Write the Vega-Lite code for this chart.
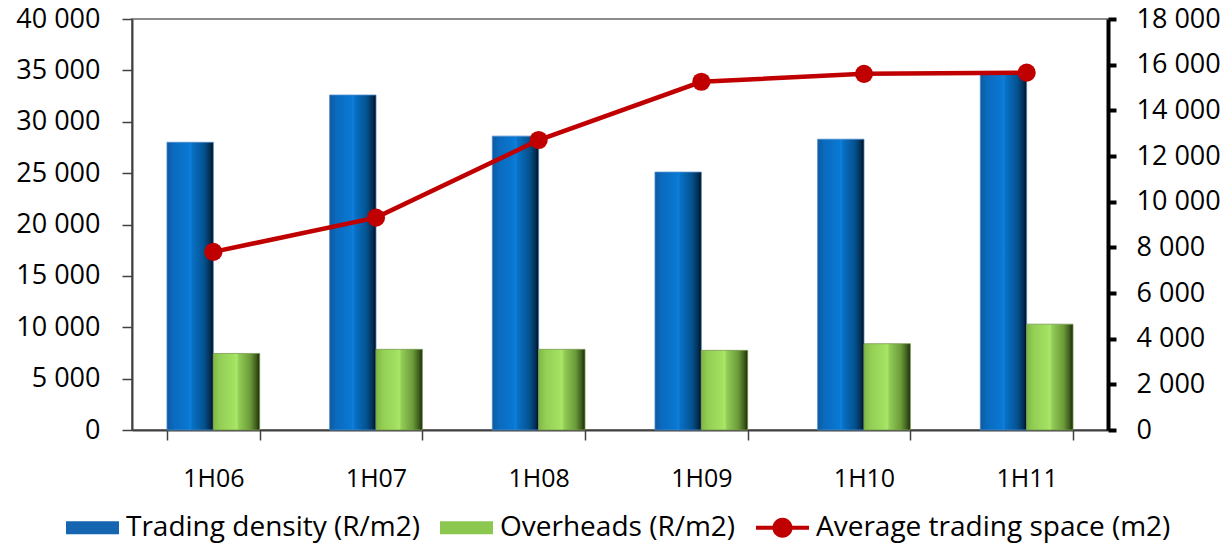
{
  "$schema": "https://vega.github.io/schema/vega-lite/v6.json",
  "width": 976,
  "height": 411,
  "autosize": {"type": "none"},
  "padding": {"left": 132, "top": 19, "right": 122, "bottom": 116},
  "background": "white",
  "config": {
    "view": {"stroke": "#8c8c8c", "strokeWidth": 2},
    "font": "Open Sans"
  },
  "datasets": {
    "bars": [
      {"period": "1H06", "series": "Trading density (R/m2)", "value": 28000},
      {"period": "1H07", "series": "Trading density (R/m2)", "value": 32600},
      {"period": "1H08", "series": "Trading density (R/m2)", "value": 28600},
      {"period": "1H09", "series": "Trading density (R/m2)", "value": 25100},
      {"period": "1H10", "series": "Trading density (R/m2)", "value": 28300},
      {"period": "1H11", "series": "Trading density (R/m2)", "value": 34600},
      {"period": "1H06", "series": "Overheads (R/m2)", "value": 7450},
      {"period": "1H07", "series": "Overheads (R/m2)", "value": 7850},
      {"period": "1H08", "series": "Overheads (R/m2)", "value": 7850},
      {"period": "1H09", "series": "Overheads (R/m2)", "value": 7750},
      {"period": "1H10", "series": "Overheads (R/m2)", "value": 8400},
      {"period": "1H11", "series": "Overheads (R/m2)", "value": 10300}
    ],
    "space": [
      {"period": "1H06", "series": "Average trading space (m2)", "space": 7800},
      {"period": "1H07", "series": "Average trading space (m2)", "space": 9300},
      {"period": "1H08", "series": "Average trading space (m2)", "space": 12700},
      {"period": "1H09", "series": "Average trading space (m2)", "space": 15250},
      {"period": "1H10", "series": "Average trading space (m2)", "space": 15600},
      {"period": "1H11", "series": "Average trading space (m2)", "space": 15650}
    ]
  },
  "encoding": {
    "x": {
      "field": "period",
      "type": "nominal",
      "sort": null,
      "scale": {"paddingInner": 0.43, "paddingOuter": 0.215},
      "axis": {
        "title": null,
        "labelAngle": 0,
        "tickBand": "extent",
        "labelFont": "Open Sans",
        "labelFontSize": 25,
        "labelColor": "#000000",
        "labelBaseline": "middle",
        "labelPadding": 38,
        "tickSize": 10,
        "tickColor": "#404040",
        "tickWidth": 1.5,
        "domainColor": "#404040",
        "domainWidth": 2
      }
    }
  },
  "layer": [
    {
      "data": {"name": "bars"},
      "encoding": {
        "xOffset": {
          "field": "series",
          "type": "nominal",
          "scale": {"domain": ["Trading density (R/m2)", "Overheads (R/m2)"], "paddingInner": 0, "paddingOuter": 0}
        },
        "y": {
          "field": "value",
          "type": "quantitative",
          "scale": {"domain": [0, 40000], "nice": false},
          "axis": {
            "title": null,
            "orient": "left",
            "values": [0, 5000, 10000, 15000, 20000, 25000, 30000, 35000, 40000],
            "labelExpr": "replace(format(datum.value, ','), ',', ' ')",
            "labelFont": "Open Sans",
            "labelFontSize": 27,
            "labelColor": "#000000",
            "labelPadding": 22,
            "tickSize": 10,
            "tickColor": "#404040",
            "tickWidth": 1.5,
            "domainColor": "#404040",
            "domainWidth": 2,
            "grid": false
          }
        }
      },
      "layer": [
        {
          "transform": [{"filter": "datum.series === 'Trading density (R/m2)'"}],
          "mark": {
            "type": "bar",
            "stroke": "#4a8ccc",
            "strokeWidth": 0.8,
            "color": {
              "gradient": "linear", "x1": 0, "x2": 1, "y1": 0, "y2": 0,
              "stops": [
                {"offset": 0, "color": "#0f5a9e"},
                {"offset": 0.15, "color": "#0a6bbf"},
                {"offset": 0.47, "color": "#0a78d2"},
                {"offset": 0.5, "color": "#0d80de"},
                {"offset": 0.55, "color": "#0870c4"},
                {"offset": 0.8, "color": "#04528f"},
                {"offset": 0.93, "color": "#032f55"},
                {"offset": 1, "color": "#010a14"}
              ]
            }
          }
        },
        {
          "transform": [{"filter": "datum.series === 'Overheads (R/m2)'"}],
          "mark": {
            "type": "bar",
            "stroke": "#7a9a50",
            "strokeWidth": 0.8,
            "color": {
              "gradient": "linear", "x1": 0, "x2": 1, "y1": 0, "y2": 0,
              "stops": [
                {"offset": 0, "color": "#7fb844"},
                {"offset": 0.15, "color": "#93cf55"},
                {"offset": 0.47, "color": "#a3e262"},
                {"offset": 0.5, "color": "#a9e868"},
                {"offset": 0.55, "color": "#93cc56"},
                {"offset": 0.8, "color": "#6a9a38"},
                {"offset": 0.93, "color": "#3c5a1c"},
                {"offset": 1, "color": "#1a2808"}
              ]
            }
          }
        }
      ]
    },
    {
      "data": {"name": "space"},
      "encoding": {
        "y": {
          "field": "space",
          "type": "quantitative",
          "scale": {"domain": [0, 18000], "nice": false},
          "axis": {
            "title": null,
            "orient": "right",
            "values": [0, 2000, 4000, 6000, 8000, 10000, 12000, 14000, 16000, 18000],
            "labelExpr": "replace(format(datum.value, ','), ',', ' ')",
            "labelFont": "Open Sans",
            "labelFontSize": 27,
            "labelColor": "#000000",
            "labelPadding": 20,
            "tickSize": 8,
            "tickColor": "#000000",
            "tickWidth": 4,
            "domainColor": "#000000",
            "domainWidth": 4,
            "grid": false
          }
        }
      },
      "layer": [
        {
          "mark": {"type": "line", "color": "#C00000", "strokeWidth": 4.5}
        },
        {
          "mark": {"type": "point", "shape": "circle", "filled": true, "opacity": 1, "color": "#C00000", "size": 330}
        },
        {
          "mark": {"type": "point", "filled": true, "opacity": 0},
          "encoding": {
            "color": {
              "field": "series",
              "type": "nominal",
              "scale": {
                "domain": ["Trading density (R/m2)", "Overheads (R/m2)", "Average trading space (m2)"],
                "range": ["#1565b0", "#8cc850", "#C00000"]
              },
              "legend": {
                "title": null,
                "orient": "none",
                "legendX": -66,
                "legendY": 482,
                "direction": "horizontal",
                "labelFont": "Open Sans",
                "labelFontSize": 28,
                "labelColor": "#000000",
                "labelLimit": 600,
                "labelOffset": 7,
                "columnPadding": 20,
                "symbolSize": 2809,
                "symbolOpacity": 1,
                "symbolStrokeWidth": 0
              }
            },
            "shape": {
              "field": "series",
              "type": "nominal",
              "scale": {
                "domain": ["Trading density (R/m2)", "Overheads (R/m2)", "Average trading space (m2)"],
                "range": [
                  "M-1,-0.245H1V0.245H-1Z",
                  "M-1,-0.245H1V0.245H-1Z",
                  "M-1,-0.075H1V0.075H-1Z M0.38,0A0.38,0.38 0 1,1 -0.38,0A0.38,0.38 0 1,1 0.38,0Z"
                ]
              },
              "legend": {
                "title": null,
                "orient": "none",
                "legendX": -66,
                "legendY": 482,
                "direction": "horizontal",
                "labelFont": "Open Sans",
                "labelFontSize": 28,
                "labelColor": "#000000",
                "labelLimit": 600,
                "labelOffset": 7,
                "columnPadding": 20,
                "symbolSize": 2809,
                "symbolOpacity": 1,
                "symbolStrokeWidth": 0
              }
            }
          }
        }
      ]
    }
  ],
  "resolve": {"scale": {"y": "independent"}}
}
